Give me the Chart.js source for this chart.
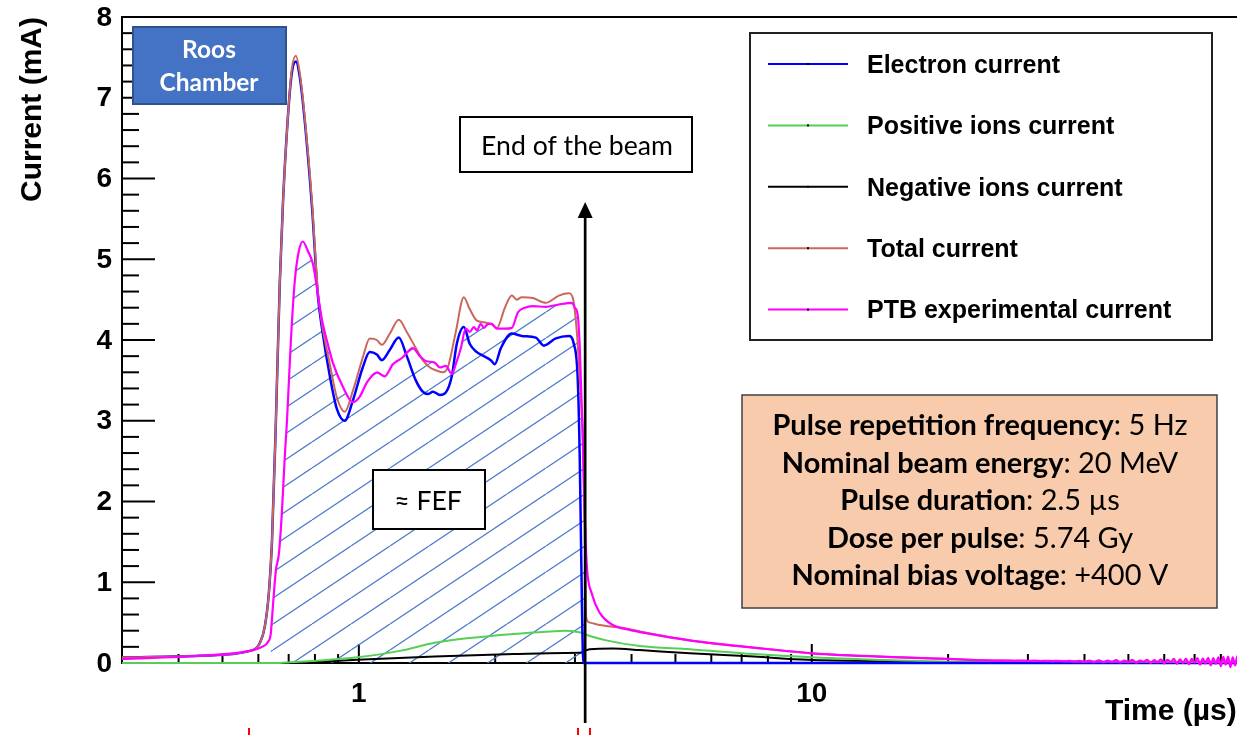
<!DOCTYPE html>
<html>
<head>
<meta charset="utf-8">
<script src="https://cdn.jsdelivr.net/npm/chart.js@4.4.0/dist/chart.umd.min.js"></script>
<style>
  html, body { margin: 0; padding: 0; background: #fff; overflow: hidden; }
  #wrap { width: 1244px; height: 735px; }
</style>
</head>
<body>
<div id="wrap"><canvas id="currentChart" width="1244" height="735"></canvas></div>
<script>
// time in microseconds, current in mA

// electron current
var electronT = [0.3, 0.446, 0.575, 0.605, 0.62, 0.633, 0.643, 0.656, 0.669, 0.68, 0.697, 0.711, 0.726, 0.741, 0.76, 0.788, 0.812, 0.829, 0.863, 0.894, 0.931, 0.97, 1.02, 1.057, 1.096, 1.124, 1.171, 1.225, 1.276, 1.336, 1.384, 1.42, 1.457, 1.51, 1.556, 1.604, 1.645, 1.705, 1.758, 1.822, 1.888, 1.956, 1.996, 2.059, 2.177, 2.29, 2.459, 2.561, 2.722, 2.908, 2.983, 3.044, 3.075, 3.107, 3.13, 90];
var electronI = [0.07, 0.09, 0.15, 0.25, 0.45, 0.87, 1.5, 3.0, 4.7, 5.7, 6.75, 7.3, 7.45, 7.25, 6.7, 5.65, 4.55, 4.15, 3.55, 3.15, 3.0, 3.25, 3.66, 3.85, 3.82, 3.75, 3.88, 4.03, 3.8, 3.5, 3.36, 3.33, 3.36, 3.32, 3.35, 3.55, 3.95, 4.16, 3.95, 3.85, 3.8, 3.75, 3.7, 3.9, 4.08, 4.05, 4.03, 3.93, 4.02, 4.05, 3.95, 3.5, 2.5, 0.8, 0, 0];

// positive ions current
var positiveT = [0.3, 0.669, 0.704, 0.82, 0.993, 1.232, 1.47, 1.758, 2.199, 2.64, 2.849, 3.044, 3.123, 3.179, 3.52, 4.17, 5.38, 7.447, 10, 15.64, 19.96, 26, 40, 90];
var positiveI = [0, 0, 0.01, 0.03, 0.07, 0.15, 0.25, 0.31, 0.36, 0.39, 0.4, 0.385, 0.37, 0.35, 0.28, 0.21, 0.17, 0.11, 0.07, 0.03, 0.015, 0.005, 0, 0];

// negative ions current
var negativeT = [0.3, 0.704, 0.82, 0.993, 1.47, 2.199, 2.849, 3.107, 3.155, 3.236, 3.636, 4.17, 5.38, 7.447, 9.8, 15.64, 19.96, 26, 40, 90];
var negativeI = [0, 0, 0.015, 0.04, 0.08, 0.11, 0.125, 0.13, 0.15, 0.17, 0.18, 0.16, 0.12, 0.08, 0.04, 0.02, 0.01, 0.005, 0, 0];

// total current
var totalT = [0.3, 0.446, 0.575, 0.605, 0.62, 0.633, 0.643, 0.656, 0.669, 0.68, 0.697, 0.711, 0.726, 0.741, 0.76, 0.788, 0.812, 0.829, 0.863, 0.894, 0.931, 0.97, 1.02, 1.057, 1.096, 1.124, 1.171, 1.225, 1.276, 1.336, 1.384, 1.435, 1.487, 1.532, 1.572, 1.637, 1.705, 1.758, 1.822, 1.888, 1.956, 2.017, 2.101, 2.177, 2.233, 2.29, 2.421, 2.587, 2.764, 2.907, 2.968, 3.029, 3.075, 3.123, 3.155, 3.179, 3.236, 3.404, 3.637, 3.866, 4.172, 5.38, 7.447, 10, 15.64, 19.96, 26, 38.6, 90];
var totalI = [0.07, 0.09, 0.15, 0.25, 0.45, 0.87, 1.5, 3.0, 4.7, 5.7, 6.75, 7.35, 7.52, 7.3, 6.75, 5.72, 4.6, 4.2, 3.7, 3.29, 3.11, 3.37, 3.78, 4.02, 4.0, 3.94, 4.08, 4.25, 4.1, 3.9, 3.75, 3.66, 3.62, 3.6, 3.66, 4.1, 4.53, 4.38, 4.24, 4.22, 4.2, 4.15, 4.4, 4.55, 4.5, 4.53, 4.52, 4.46, 4.55, 4.58, 4.52, 4.1, 3.5, 2.76, 1.5, 0.55, 0.5, 0.47, 0.45, 0.43, 0.39, 0.28, 0.19, 0.12, 0.07, 0.05, 0.03, 0.02, 0.01];

// PTB experimental current
var ptbT = [0.3, 0.446, 0.575, 0.611, 0.63, 0.639, 0.646, 0.656, 0.666, 0.676, 0.687, 0.694, 0.708, 0.722, 0.737, 0.752, 0.772, 0.792, 0.812, 0.829, 0.854, 0.876, 0.922, 0.97, 1.005, 1.041, 1.096, 1.141, 1.189, 1.247, 1.316, 1.364, 1.406, 1.47, 1.51, 1.556, 1.604, 1.637, 1.68, 1.722, 1.758, 1.794, 1.822, 1.859, 1.888, 1.927, 1.966, 2.017, 2.101, 2.177, 2.244, 2.325, 2.421, 2.587, 2.762, 2.953, 2.998, 3.044, 3.075, 3.123, 3.155, 3.187, 3.268, 3.404, 3.636, 3.964, 4.3, 5.38, 7.447, 10, 15.64, 19.96, 26];
var ptbI = [0.05, 0.09, 0.15, 0.2, 0.26, 0.36, 0.7, 1.15, 1.35, 1.85, 2.6, 3.0, 4.0, 4.73, 5.1, 5.22, 5.1, 4.94, 4.57, 4.25, 3.95, 3.72, 3.42, 3.23, 3.3, 3.47, 3.6, 3.55, 3.7, 3.78, 3.9, 3.8, 3.74, 3.72, 3.66, 3.68, 3.58, 3.7, 3.9, 4.14, 4.1, 4.16, 4.12, 4.2, 4.15, 4.2, 4.2, 4.14, 4.14, 4.15, 4.34, 4.4, 4.42, 4.41, 4.44, 4.46, 4.4, 4.3, 3.9, 2.76, 1.8, 1.2, 0.86, 0.62, 0.47, 0.41, 0.37, 0.28, 0.19, 0.12, 0.07, 0.05, 0.03];
// noisy baseline of the measurement
var ptbTailT = [27, 28, 29, 30, 31, 32, 33, 34, 35, 36, 37, 38, 39, 40, 41, 42, 43, 44, 45, 46, 47, 48, 49, 50, 51, 52, 53, 54, 55, 56, 57, 58, 59, 60, 61, 62, 63, 64, 65, 66, 67, 68, 69, 70, 71, 72, 73, 74, 75, 76, 77, 78, 79, 80, 81, 82, 83, 84, 85, 86, 87, 88, 89, 90];
var ptbTailI = [0.03, 0.028, 0.03, 0.027, 0.029, 0.025, 0.028, 0.024, 0.027, 0.022, 0.026, 0.02, 0.028, 0.015, 0.03, 0.012, 0.032, 0.01, 0.03, 0.015, 0.035, 0.008, 0.03, 0.012, 0.038, 0.005, 0.03, 0.015, 0.04, 0.0, 0.035, 0.01, 0.045, -0.005, 0.04, 0.012, 0.05, -0.01, 0.045, 0.0, 0.055, -0.015, 0.05, 0.005, 0.06, -0.02, 0.055, -0.005, 0.065, -0.03, 0.06, -0.01, 0.07, -0.04, 0.075, -0.02, 0.08, -0.05, 0.07, -0.03, 0.085, -0.06, 0.08, -0.03];

// axis ticks
var xMajorTicks = [1, 10];
var xMinorTicks = [0.4, 0.5, 0.6, 0.7, 0.8, 0.9, 2, 3, 4, 5, 6, 7, 8, 9, 20, 30, 40, 50, 60, 70, 80];
var yMajorTicks = [0, 1, 2, 3, 4, 5, 6, 7, 8];

// beam window used for the hatched area (µs)
var hatchStartT = 0.635;
var beamEndT = 3.16;

var infoLines = [
  ['Pulse repetition frequency', ': 5 Hz'],
  ['Nominal beam energy', ': 20 MeV'],
  ['Pulse duration', ': 2.5 \u00b5s'],
  ['Dose per pulse', ': 5.74 Gy'],
  ['Nominal bias voltage', ': +400 V']
];

function points(ts, vs) {
  return ts.map(function (t, i) { return { x: t, y: vs[i] }; });
}

function makeHatch() {
  var c = document.createElement('canvas');
  c.width = 39; c.height = 26;
  var g = c.getContext('2d');
  g.strokeStyle = '#4a7bcc';
  g.lineWidth = 1.3;
  [-1, 0, 1].forEach(function (k) {
    g.beginPath();
    g.moveTo(k * 39, 26);
    g.lineTo(k * 39 + 39, 0);
    g.stroke();
  });
  return g.createPattern(c, 'repeat');
}

var hatchPts = points(ptbT, ptbI).filter(function (p) {
  return p.x >= hatchStartT && p.x <= beamEndT;
});

var AXIS_FONT = '"Liberation Sans", Arial, sans-serif';

function line(ctx, x1, y1, x2, y2) {
  ctx.beginPath(); ctx.moveTo(x1, y1); ctx.lineTo(x2, y2); ctx.stroke();
}

function box(ctx, x, y, w, h, fill, stroke, lw) {
  ctx.fillStyle = fill;
  ctx.fillRect(x, y, w, h);
  ctx.strokeStyle = stroke;
  ctx.lineWidth = lw;
  ctx.strokeRect(x, y, w, h);
}

// font size that makes text fill a given width
function fitSize(ctx, weight, family, text, width) {
  ctx.font = weight + ' 40px ' + family;
  return 40 * width / ctx.measureText(text).width;
}

var decorations = {
  id: 'decorations',
  beforeDatasetsDraw: function (chart) {
    var ctx = chart.ctx, a = chart.chartArea;
    var x = chart.scales.x, y = chart.scales.y;
    ctx.save();
    ctx.strokeStyle = '#000';
    ctx.lineWidth = 2;
    line(ctx, a.left, a.top, a.right, a.top);

    // ticks point into the frame
    yMajorTicks.forEach(function (v, i) {
      var py = y.getPixelForValue(v);
      line(ctx, a.left, py, a.left + 33, py);
      if (i < yMajorTicks.length - 1) {
        for (var k = 1; k < 5; k++) {
          var pm = y.getPixelForValue(v + k * 0.2);
          line(ctx, a.left, pm, a.left + 17, pm);
        }
      }
    });
    xMajorTicks.forEach(function (v) {
      var px = x.getPixelForValue(v);
      line(ctx, px, a.bottom, px, a.bottom - 19);
    });
    xMinorTicks.forEach(function (v) {
      var px = x.getPixelForValue(v);
      line(ctx, px, a.bottom, px, a.bottom - 9);
    });

    // tick labels
    ctx.fillStyle = '#000';
    ctx.font = 'bold 28px ' + AXIS_FONT;
    ctx.textAlign = 'right';
    ctx.textBaseline = 'middle';
    yMajorTicks.forEach(function (v) {
      ctx.fillText(String(v), a.left - 10, y.getPixelForValue(v) + 1);
    });
    ctx.textAlign = 'center';
    xMajorTicks.forEach(function (v) {
      ctx.fillText(String(v), x.getPixelForValue(v), a.bottom + 31);
    });

    // axis titles
    ctx.font = 'bold 30px ' + AXIS_FONT;
    ctx.textAlign = 'left';
    ctx.textBaseline = 'alphabetic';
    ctx.fillText('Time (\u00b5s)', 1105, 720);
    ctx.save();
    ctx.translate(41, a.top);
    ctx.rotate(-Math.PI / 2);
    ctx.textAlign = 'right';
    ctx.fillText('Current (mA)', 0, 0);
    ctx.restore();
    ctx.restore();
  },
  afterDatasetsDraw: function (chart) {
    var ctx = chart.ctx;
    var x = chart.scales.x;
    ctx.save();

    // end of beam arrow
    var ax = x.getPixelForValue(beamEndT);
    ctx.strokeStyle = '#000';
    ctx.lineWidth = 2.7;
    line(ctx, ax, 723, ax, 214);
    ctx.fillStyle = '#000';
    ctx.beginPath();
    ctx.moveTo(ax, 202); ctx.lineTo(ax - 7.5, 218); ctx.lineTo(ax + 7.5, 218);
    ctx.closePath(); ctx.fill();

    // red marks below the axis
    ctx.strokeStyle = '#ff0000';
    ctx.lineWidth = 2;
    [249, 578, 590].forEach(function (px) { line(ctx, px, 728, px, 735); });

    // Roos chamber label
    box(ctx, 133, 27, 153, 77, '#4472c4', '#2f528f', 2);
    ctx.fillStyle = '#fff';
    ctx.textAlign = 'center';
    ctx.textBaseline = 'alphabetic';
    var rs = fitSize(ctx, 'bold', 'Lato', 'Chamber', 99);
    ctx.font = 'bold ' + rs + 'px Lato';
    ctx.fillText('Roos', 209, 58);
    ctx.fillText('Chamber', 209, 91);

    // end of the beam label
    box(ctx, 460, 117, 232, 55, '#fff', '#000', 2);
    ctx.fillStyle = '#000';
    var es = fitSize(ctx, '', 'Lato', 'End of the beam', 192);
    ctx.font = es + 'px Lato';
    ctx.fillText('End of the beam', 577, 155);

    // FEF label
    box(ctx, 373, 470, 112, 59, '#fff', '#000', 2);
    ctx.fillStyle = '#000';
    ctx.font = es + 'px Lato';
    ctx.fillText('\u2248 FEF', 428, 510);

    // beam parameters
    box(ctx, 742, 395, 475, 213, '#f8cbad', '#404040', 1.5);
    ctx.fillStyle = '#000';
    ctx.textAlign = 'left';
    var is = fitSize(ctx, 'bold', 'Lato', infoLines[0][0] + infoLines[0][1], 415);
    infoLines.forEach(function (ln, i) {
      ctx.font = 'bold ' + is + 'px Lato';
      var w1 = ctx.measureText(ln[0]).width;
      ctx.font = is + 'px Lato';
      var w2 = ctx.measureText(ln[1]).width;
      var x0 = 980 - (w1 + w2) / 2;
      var by = 435 + i * 37.5;
      ctx.font = 'bold ' + is + 'px Lato';
      ctx.fillText(ln[0], x0, by);
      ctx.font = is + 'px Lato';
      ctx.fillText(ln[1], x0 + w1, by);
    });

    // legend
    box(ctx, 750, 33, 462, 307, '#fff', '#222', 2);
    ctx.font = 'bold 25px ' + AXIS_FONT;
    ctx.textBaseline = 'middle';
    var row = 0;
    chart.data.datasets.forEach(function (ds) {
      if (ds.skipLegend) return;
      var ly = 64 + row * 61.4;
      ctx.strokeStyle = ds.borderColor;
      ctx.lineWidth = 2;
      line(ctx, 768, ly, 848, ly);
      ctx.fillStyle = '#000';
      ctx.fillRect(807, ly - 1, 2, 2);
      ctx.fillText(ds.label, 867, ly + 2);
      row++;
    });
    ctx.restore();
  }
};

var ctxC = document.getElementById('currentChart').getContext('2d');
var currentChart = new Chart(ctxC, {
  type: 'scatter',
  data: {
    datasets: [
      { label: 'Electron current', data: points(electronT, electronI), borderColor: '#0000ff', borderWidth: 2.5, order: 3 },
      { label: 'Positive ions current', data: points(positiveT, positiveI), borderColor: '#55d055', borderWidth: 2, order: 4 },
      { label: 'Negative ions current', data: points(negativeT, negativeI), borderColor: '#000000', borderWidth: 2, order: 5 },
      { label: 'Total current', data: points(totalT, totalI), borderColor: '#c9675b', borderWidth: 2, order: 2 },
      { label: 'PTB experimental current', data: points(ptbT.concat(ptbTailT), ptbI.concat(ptbTailI)), borderColor: '#ff00ff', borderWidth: 2.2, order: 1 },
      { label: 'FEF', skipLegend: true, data: hatchPts, borderWidth: 0, borderColor: 'rgba(0,0,0,0)', backgroundColor: makeHatch(), fill: 'origin', order: 6 }
    ]
  },
  options: {
    responsive: false,
    animation: false,
    showLine: true,
    layout: { padding: { top: 17, left: 0, right: 0, bottom: 0 } },
    elements: {
      point: { radius: 0, hoverRadius: 0 },
      line: { cubicInterpolationMode: 'monotone', fill: false }
    },
    datasets: { scatter: { clip: 10 } },
    plugins: { legend: { display: false }, tooltip: { enabled: false } },
    scales: {
      x: {
        type: 'logarithmic', min: 0.3, max: 90,
        grid: { display: false, drawTicks: false },
        border: { display: true, color: '#000', width: 2 },
        ticks: { display: false },
        afterFit: function (s) { s.height = 72; }
      },
      y: {
        type: 'linear', min: 0, max: 8,
        grid: { display: false, drawTicks: false },
        border: { display: true, color: '#000', width: 2 },
        ticks: { display: false },
        afterFit: function (s) { s.width = 122; }
      }
    }
  },
  plugins: [decorations]
});
</script>
</body>
</html>
